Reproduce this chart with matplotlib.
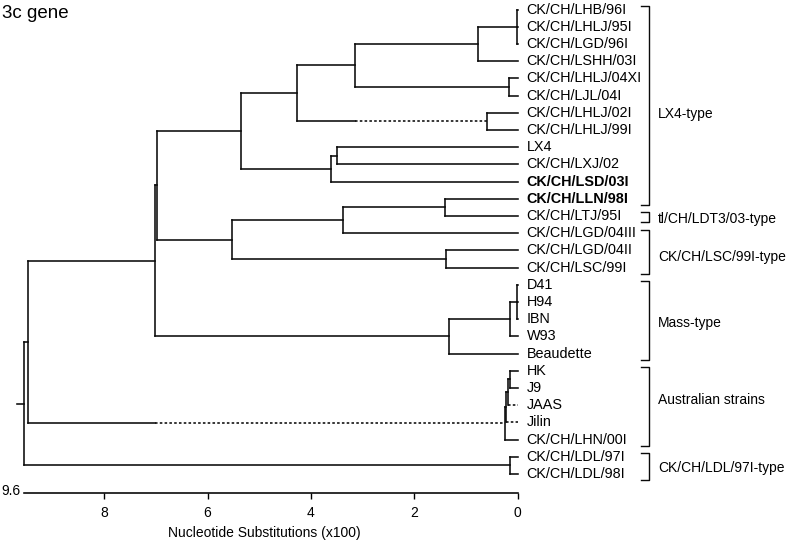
import matplotlib
matplotlib.use("Agg")
import matplotlib.pyplot as plt

plt.rcParams['font.family'] = ['Liberation Sans', 'DejaVu Sans']

# tips, top to bottom
leaves = [
    "CK/CH/LHB/96I", "CK/CH/LHLJ/95I", "CK/CH/LGD/96I", "CK/CH/LSHH/03I",
    "CK/CH/LHLJ/04XI", "CK/CH/LJL/04I", "CK/CH/LHLJ/02I", "CK/CH/LHLJ/99I",
    "LX4", "CK/CH/LXJ/02", "CK/CH/LSD/03I", "CK/CH/LLN/98I", "CK/CH/LTJ/95I",
    "CK/CH/LGD/04III", "CK/CH/LGD/04II", "CK/CH/LSC/99I",
    "D41", "H94", "IBN", "W93", "Beaudette",
    "HK", "J9", "JAAS", "Jilin", "CK/CH/LHN/00I",
    "CK/CH/LDL/97I", "CK/CH/LDL/98I",
]
bold_leaves = ["CK/CH/LSD/03I", "CK/CH/LLN/98I"]

# internal nodes (children before parents), heights in substitutions x100
node_ids = ["lhb", "A", "B", "C", "D", "E", "F", "G", "H", "I", "J", "K", "L",
            "M", "Q", "O", "P", "N", "R", "S", "T", "U", "W", "V", "root"]
node_kids = [
    ["CK/CH/LHB/96I", "CK/CH/LHLJ/95I", "CK/CH/LGD/96I"],
    ["lhb", "CK/CH/LSHH/03I"],
    ["CK/CH/LHLJ/04XI", "CK/CH/LJL/04I"],
    ["A", "B"],
    ["CK/CH/LHLJ/02I", "CK/CH/LHLJ/99I"],
    ["C", "D"],
    ["LX4", "CK/CH/LXJ/02"],
    ["F", "CK/CH/LSD/03I"],
    ["E", "G"],
    ["CK/CH/LLN/98I", "CK/CH/LTJ/95I"],
    ["I", "CK/CH/LGD/04III"],
    ["CK/CH/LGD/04II", "CK/CH/LSC/99I"],
    ["J", "K"],
    ["H", "L"],
    ["D41", "H94", "IBN"],
    ["Q", "W93"],
    ["O", "Beaudette"],
    ["M", "P"],
    ["HK", "J9"],
    ["R", "JAAS"],
    ["S", "Jilin"],
    ["T", "CK/CH/LHN/00I"],
    ["N", "U"],
    ["CK/CH/LDL/97I", "CK/CH/LDL/98I"],
    ["W", "V"],
]
node_heights = [0.01, 0.77, 0.16, 3.15, 0.60, 4.27, 3.50, 3.62, 5.36, 1.41,
                3.37, 1.39, 5.53, 6.98, 0.01, 0.15, 1.32, 7.01, 0.15, 0.19,
                0.23, 0.25, 9.48, 0.15, 9.555]

# branches drawn dotted from this height down to the child
dashed_from = {"D": 3.15, "U": 7.01, "JAAS": 0.19, "Jilin": 0.23}

group_names = ["LX4-type", "tl/CH/LDT3/03-type", "CK/CH/LSC/99I-type",
               "Mass-type", "Australian strains", "CK/CH/LDL/97I-type"]
group_first = ["CK/CH/LHB/96I", "CK/CH/LTJ/95I", "CK/CH/LGD/04III",
               "D41", "HK", "CK/CH/LDL/97I"]
group_last = ["CK/CH/LLN/98I", "CK/CH/LTJ/95I", "CK/CH/LSC/99I",
              "Beaudette", "CK/CH/LHN/00I", "CK/CH/LDL/98I"]
group_label_shift = [0.6, 0.2, 0.4, 0.2, -0.3, 0.15]

scale_ticks = [0, 2, 4, 6, 8]

# layout
ypos = {name: i for i, name in enumerate(leaves)}
hgt = {name: 0.0 for name in leaves}
for nid, kids, h in zip(node_ids, node_kids, node_heights):
    ypos[nid] = (ypos[kids[0]] + ypos[kids[-1]]) / 2
    hgt[nid] = h

fig = plt.figure(figsize=(7.88, 5.43), dpi=100)
ax = fig.add_axes([0, 0, 1, 1])
x0, sx = 517.7, 51.7
ax.set_xlim(x0 / sx, (x0 - 788) / sx)
ax.set_ylim((543 - 9.5) / 17.2, -9.5 / 17.2)

lw = 1.15
col = "#0a0a0a"
for nid, kids, h in zip(node_ids, node_kids, node_heights):
    ax.plot([h, h], [ypos[kids[0]], ypos[kids[-1]]], color=col, lw=lw)
    for k in kids:
        y = ypos[k]
        if k in dashed_from:
            d = dashed_from[k]
            if d < h:
                ax.plot([h, d], [y, y], color=col, lw=lw)
            ax.plot([d, hgt[k]], [y, y], color=col, lw=lw, ls=(0, (1.6, 1.4)))
        else:
            ax.plot([h, hgt[k]], [y, y], color=col, lw=lw)

root_h = hgt["root"]
ax.plot([root_h + 0.135, root_h], [ypos["root"]] * 2, color=col, lw=lw)

for name in leaves:
    ax.text(-0.17, ypos[name], name, ha="left", va="center", fontsize=10.4,
            fontweight="bold" if name in bold_leaves else "normal")

xv, xt, xl = (x0 - 649) / sx, (x0 - 640.5) / sx, (x0 - 658.3) / sx
for gname, a, b, sh in zip(group_names, group_first, group_last, group_label_shift):
    top, bot = ypos[a] - 0.2, ypos[b] + 0.35
    ax.plot([xt, xv, xv, xt], [top, top, bot, bot], color=col, lw=1.0)
    ax.text(xl, (ypos[a] + ypos[b]) / 2 + sh, gname, ha="left", va="center",
            fontsize=10)

# scale bar
for s in ["left", "top", "right"]:
    ax.spines[s].set_visible(False)
ax.spines["bottom"].set_position(("data", 28.13))
ax.spines["bottom"].set_bounds(0, root_h)
ax.spines["bottom"].set_linewidth(lw)
ax.set_xticks(scale_ticks)
ax.set_xticklabels([str(t) for t in scale_ticks])
ax.tick_params(axis="x", direction="out", length=4.3, width=1.0, labelsize=10, pad=4.5)
ax.set_yticks([])
ax.text(9.613, 28.0, "9.6", ha="right", va="center", fontsize=10)
ax.text(4.91, 30.44, "Nucleotide Substitutions (x100)", ha="center", va="center",
        fontsize=10)

fig.text(2 / 788, 1 - 18.5 / 543, "3c gene", fontsize=13.5, va="baseline")

fig.savefig("out.png", dpi=100)
